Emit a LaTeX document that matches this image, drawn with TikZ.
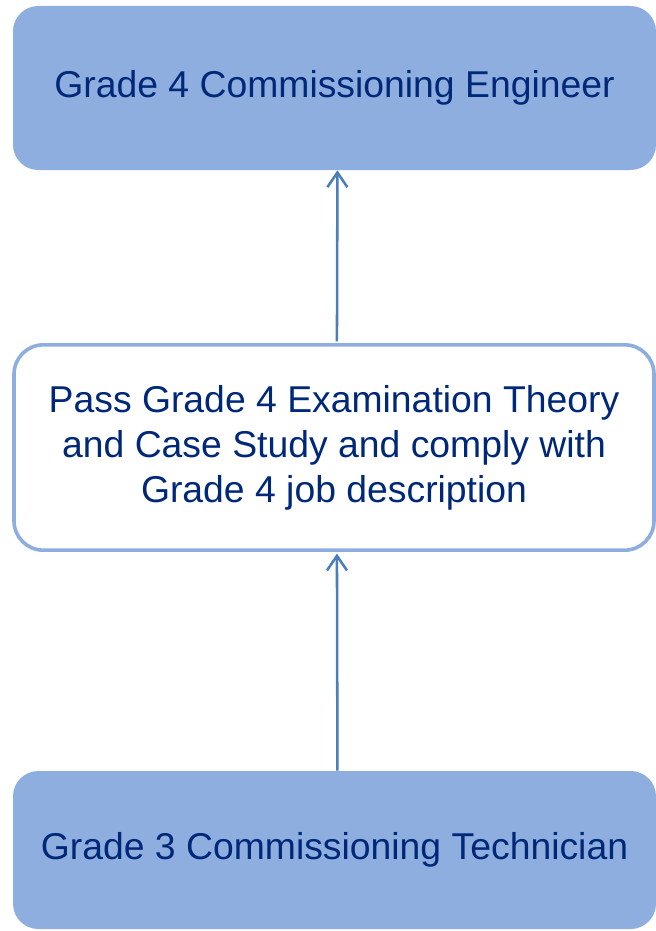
\documentclass[tikz,border=0pt]{standalone}
\usepackage{fontspec}
\setmainfont{Liberation Sans}
\usetikzlibrary{arrows.meta}
\definecolor{boxfill}{RGB}{142,174,224}
\definecolor{txt}{RGB}{0,40,120}
\definecolor{arr}{RGB}{74,126,187}
\tikzset{
  filledbox/.style={rectangle, fill=boxfill, rounded corners=19pt, minimum width=482.25pt, text=txt, font=\fontsize{28}{33.75}\selectfont, align=center, inner sep=0pt},
  outlinebox/.style={rectangle, draw=boxfill, line width=2.7pt, fill=white, rounded corners=22pt, minimum width=480pt, minimum height=154pt, text=txt, font=\fontsize{28}{33.75}\selectfont, align=center, inner sep=0pt},
  uparrow/.style={draw=arr, line width=1.9pt, -{Straight Barb[length=11pt, width=15pt, line width=1.9pt]}}
}
\begin{document}
\begin{tikzpicture}[x=0.75pt, y=-0.75pt]
\useasboundingbox (0,0) rectangle (656,931);
\node[filledbox, minimum height=123pt] (top) at (334.5,88) {Grade 4 Commissioning Engineer};
\node[outlinebox] (mid) at (334,447.5) {Pass Grade 4 Examination Theory\\and Case Study and comply with\\Grade 4 job description};
\node[filledbox, minimum height=118.5pt] (bot) at (334.5,850) {Grade 3 Commissioning Technician};
\draw[uparrow] ([xshift=2.2pt]bot.north) -- ([xshift=2.2pt,yshift=-1.2pt]mid.south);
\draw[uparrow] ([xshift=2.2pt,yshift=1.2pt]mid.north) -- ([xshift=2.2pt]top.south);
\end{tikzpicture}
\end{document}
